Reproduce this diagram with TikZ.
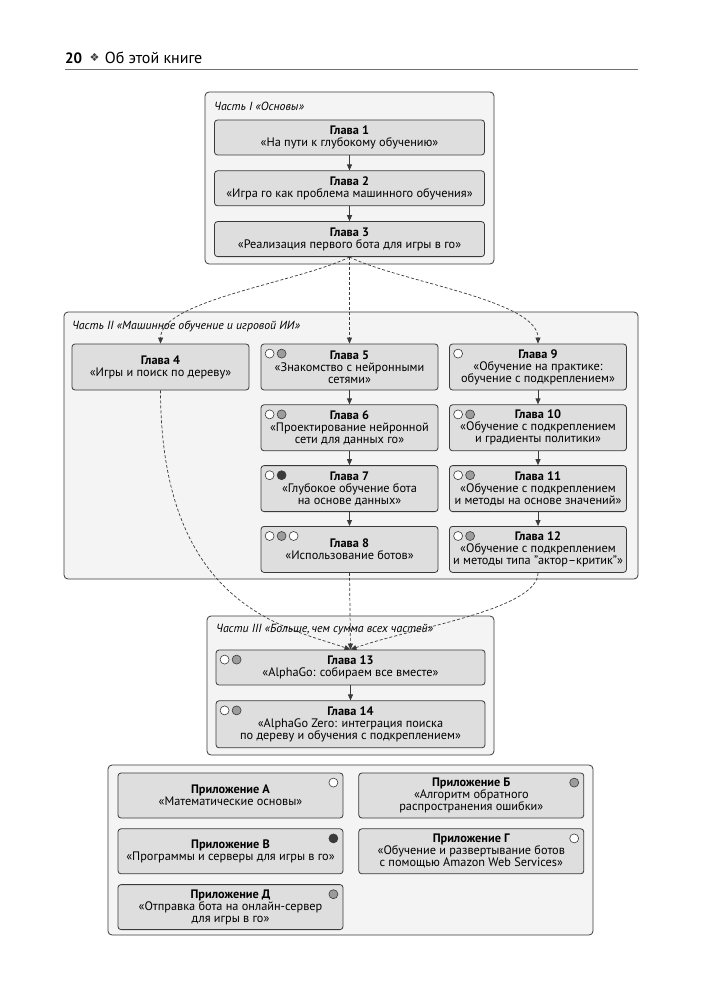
\documentclass[tikz,border=0pt]{standalone}
\usepackage{fontspec}
\setmainfont{PT Sans}
\newfontfamily\symfont{DejaVu Sans}
\usetikzlibrary{arrows.meta, positioning}

\definecolor{linecol}{HTML}{3A3A3A}
\definecolor{partfill}{HTML}{F4F4F4}
\definecolor{boxfill}{HTML}{DEDEDE}
\definecolor{dotgray}{HTML}{9C9C9C}
\definecolor{rulecol}{HTML}{707070}

% small reading-level circles in the top left corner of a box
\newcommand\chapdots[2]{%
  \foreach \c [count=\i] in {#2}
    \node[dot, fill=\c] (#1d\i) at ([shift={({9+12*(\i-1)},10)}]#1.north west) {};}

\begin{document}
\begin{tikzpicture}[x=1pt, y=-1pt,
    node distance=14pt and 15pt,
    part/.style={draw=linecol, fill=partfill, rounded corners=4pt, line width=0.8pt},
    chap/.style={draw=linecol, fill=boxfill, rounded corners=3pt, line width=0.8pt, align=center, inner sep=0pt, font=\fontsize{12.3}{12}\selectfont},
    wide/.style={chap, minimum width=270pt, minimum height=35pt},
    col/.style={chap, minimum width=177pt, minimum height=46pt},
    app/.style={chap, minimum width=225pt, minimum height=45pt},
    dot/.style={circle, draw=linecol, line width=0.6pt, minimum size=9pt, inner sep=0pt},
    partlbl/.style={anchor=west, inner sep=0pt, font=\fontsize{11.8}{12}\selectfont\itshape},
    arr/.style={-{Triangle[length=6pt, width=5pt]}, line width=0.9pt, draw=linecol},
    darr/.style={arr, dash pattern=on 3pt off 2pt, line width=0.7pt}]
\fill[white] (0,0) rectangle (702,1000);

% page header
\node[anchor=west, inner sep=0pt, font=\fontsize{15}{16}\selectfont\bfseries] (pnum) at (65,58) {20};
\node[right=7pt of pnum, inner sep=0pt, font=\fontsize{11}{12}\selectfont, text=linecol] (orn) {\symfont ❖};
\node[right=5pt of orn, inner sep=0pt, font=\fontsize{16}{16}\selectfont] (ptitle) {Об этой книге};
\draw[rulecol, line width=1pt] (65,70) -- (638,70);

% part frames
\draw[part] (205,92) rectangle (494,264);
\draw[part] (64,312) rectangle (638,579);
\draw[part] (207,616) rectangle (494,755);
\draw[part] (108,765) rectangle (593,935);

\node[partlbl] (l1) at (214,106) {Часть I «Основы»};
\node[partlbl] (l2) at (72,326) {Часть II «Машинное обучение и игровой ИИ»};

% part I
\node[wide] (g1) at (349.5,137.5) {\textbf{Глава 1}\\«На пути к глубокому обучению»};
\node[wide, below=15pt of g1] (g2) {\textbf{Глава 2}\\«Игра го как проблема машинного обучения»};
\node[wide, below=15pt of g2] (g3) {\textbf{Глава 3}\\«Реализация первого бота для игры в го»};

% part II
\node[col] (g4) at (160.5,367) {\textbf{Глава 4}\\«Игры и поиск по дереву»};
\node[col] (g5) at (349.5,367) {\textbf{Глава 5}\\«Знакомство с нейронными\\сетями»};
\node[col, below=of g5] (g6) {\textbf{Глава 6}\\«Проектирование нейронной\\сети для данных го»};
\node[col, below=of g6] (g7) {\textbf{Глава 7}\\«Глубокое обучение бота\\на основе данных»};
\node[col, below=of g7] (g8) {\textbf{Глава 8}\\«Использование ботов»};
\node[col] (g9) at (538,367) {\textbf{Глава 9}\\«Обучение на практике:\\обучение с подкреплением»};
\node[col, below=of g9] (g10) {\textbf{Глава 10}\\«Обучение с подкреплением\\и градиенты политики»};
\node[col, below=of g10] (g11) {\textbf{Глава 11}\\«Обучение с подкреплением\\и методы на основе значений»};
\node[col, below=of g11] (g12) {\textbf{Глава 12}\\«Обучение с подкреплением\\и методы типа "актор–критик"»};

% part III
\node[wide, minimum width=269pt] (g13) at (350.5,667.5) {\textbf{Глава 13}\\«AlphaGo: собираем все вместе»};
\node[wide, minimum width=269pt, minimum height=47pt, below=15pt of g13] (g14) {\textbf{Глава 14}\\«AlphaGo Zero: интеграция поиска\\по дереву и обучения с подкреплением»};

% appendices
\node[app] (pa) at (230.5,795.5) {\textbf{Приложение А}\\«Математические основы»};
\node[app, right=of pa] (pb) {\textbf{Приложение Б}\\«Алгоритм обратного\\распространения ошибки»};
\node[app, below=10pt of pa] (pv) {\textbf{Приложение В}\\«Программы и серверы для игры в го»};
\node[app, below=10pt of pb] (pg) {\textbf{Приложение Г}\\«Обучение и развертывание ботов\\с помощью Amazon Web Services»};
\node[app, below=10pt of pv] (pd) {\textbf{Приложение Д}\\«Отправка бота на онлайн-сервер\\для игры в го»};

% reading-level marks
\chapdots{g5}{white,dotgray}
\chapdots{g6}{white,dotgray}
\chapdots{g7}{white,linecol}
\chapdots{g8}{white,dotgray,white}
\chapdots{g9}{white}
\chapdots{g10}{white,dotgray}
\chapdots{g11}{white,dotgray}
\chapdots{g12}{white,dotgray}
\chapdots{g13}{white,dotgray}
\chapdots{g14}{white,dotgray}
\node[dot, fill=white] (pad) at ([shift={(-10,10)}]pa.north east) {};
\node[dot, fill=dotgray] (pbd) at ([shift={(-10,10)}]pb.north east) {};
\node[dot, fill=linecol] (pvd) at ([shift={(-10,10)}]pv.north east) {};
\node[dot, fill=white] (pgd) at ([shift={(-10,10)}]pg.north east) {};
\node[dot, fill=dotgray] (pdd) at ([shift={(-10,10)}]pd.north east) {};

% solid arrows
\draw[arr] (g1) -- (g2);
\draw[arr] (g2) -- (g3);
\draw[arr] (g5) -- (g6);
\draw[arr] (g6) -- (g7);
\draw[arr] (g7) -- (g8);
\draw[arr] (g9) -- (g10);
\draw[arr] (g10) -- (g11);
\draw[arr] (g11) -- (g12);
\draw[arr] (g13) -- (g14);

% dashed links between parts
\draw[darr] (g3.south) .. controls (300,282) and (161,300) .. (g4.north);
\draw[darr] (g3.south) -- (g5.north);
\draw[darr] (g3.south) .. controls (400,282) and (538,300) .. (g9.north);
\draw[darr] (g4.south) .. controls (161,610) and (290,628) .. (g13.north);
\draw[darr] (g8.south) -- (g13.north);
\draw[darr] (g12.south) .. controls (538,610) and (410,628) .. (g13.north);

\node[partlbl] (l3) at (216,630) {Части III «Больше,\,чем сумма всех частей»};
\end{tikzpicture}
\end{document}
